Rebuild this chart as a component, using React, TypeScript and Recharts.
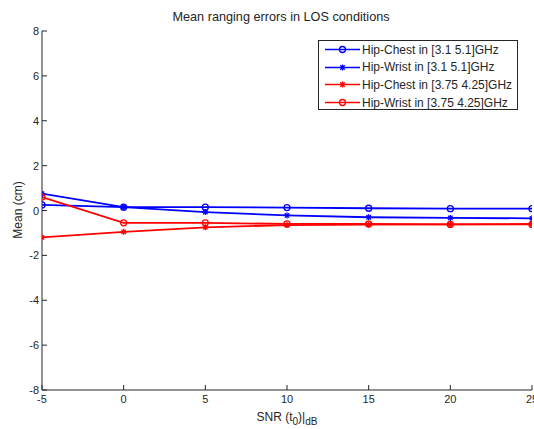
import { LineChart, Line, XAxis, YAxis, Legend } from "recharts";

const snr = [-5, 0, 5, 10, 15, 20, 25];
const hipChestWide = [0.25, 0.15, 0.15, 0.13, 0.1, 0.08, 0.08];
const hipWristWide = [0.75, 0.15, -0.07, -0.22, -0.3, -0.33, -0.35];
const hipChestNarrow = [-1.2, -0.95, -0.75, -0.65, -0.63, -0.62, -0.6];
const hipWristNarrow = [0.6, -0.55, -0.55, -0.6, -0.6, -0.62, -0.62];
const xTicks = [-5, 0, 5, 10, 15, 20, 25];
const yTicks = [-8, -6, -4, -2, 0, 2, 4, 6, 8];

const data = snr.map((s, i) => ({
  snr: s,
  hcw: hipChestWide[i],
  hww: hipWristWide[i],
  hcn: hipChestNarrow[i],
  hwn: hipWristNarrow[i],
}));

const FONT = "'Liberation Sans', Arial, sans-serif";
const TXT = "#262626";
const AX = "#262626";

const series = [
  { key: "hcw", name: "Hip-Chest in [3.1 5.1]GHz", color: "#0000ff", marker: "circle" },
  { key: "hww", name: "Hip-Wrist in [3.1 5.1]GHz", color: "#0000ff", marker: "star" },
  { key: "hcn", name: "Hip-Chest in [3.75 4.25]GHz", color: "#ff0000", marker: "star" },
  { key: "hwn", name: "Hip-Wrist in [3.75 4.25]GHz", color: "#ff0000", marker: "circle" },
];

function Marker({ cx, cy, color, type }: any) {
  if (cx == null || cy == null) return null;
  if (type === "circle") {
    return <circle cx={cx} cy={cy} r={3} fill="none" stroke={color} strokeWidth={1.3} />;
  }
  const s = 3;
  return (
    <g stroke={color} strokeWidth={1.3}>
      <line x1={cx - s} y1={cy} x2={cx + s} y2={cy} />
      <line x1={cx} y1={cy - s} x2={cx} y2={cy + s} />
      <line x1={cx - 2.2} y1={cy - 2.2} x2={cx + 2.2} y2={cy + 2.2} />
      <line x1={cx - 2.2} y1={cy + 2.2} x2={cx + 2.2} y2={cy - 2.2} />
    </g>
  );
}

function BottomTick({ x, y, payload }: any) {
  return (
    <g>
      <line x1={x} y1={y} x2={x} y2={y - 5} stroke={AX} />
      <text x={x} y={y + 13} textAnchor="middle" fontSize={11} fill={TXT} fontFamily={FONT}>
        {payload.value}
      </text>
    </g>
  );
}

function TopTick({ x, y }: any) {
  return <line x1={x} y1={y} x2={x} y2={y + 5} stroke={AX} />;
}

function LeftTick({ x, y, payload }: any) {
  return (
    <g>
      <line x1={x} y1={y} x2={x + 5} y2={y} stroke={AX} />
      <text x={x - 3} y={y + 4} textAnchor="end" fontSize={11} fill={TXT} fontFamily={FONT}>
        {payload.value}
      </text>
    </g>
  );
}

function RightTick({ x, y }: any) {
  return <line x1={x} y1={y} x2={x - 5} y2={y} stroke={AX} />;
}

function XLabel({ viewBox }: any) {
  const cx = viewBox.x + viewBox.width / 2;
  return (
    <text x={cx} y={421} textAnchor="middle" fontSize={12} fill={TXT} fontFamily={FONT}>
      SNR (t
      <tspan fontSize={10} dy={4}>0</tspan>
      <tspan dy={-4}>)|</tspan>
      <tspan fontSize={10} dy={4}>dB</tspan>
    </text>
  );
}

function YLabel() {
  return (
    <text
      x={0}
      y={0}
      transform="translate(22 210) rotate(-90)"
      textAnchor="middle"
      fontSize={12}
      fill={TXT}
      fontFamily={FONT}
    >
      Mean (cm)
    </text>
  );
}

function LegendBox() {
  return (
    <div
      style={{
        width: 200,
        height: 70,
        border: "1px solid #262626",
        background: "#fff",
        boxSizing: "border-box",
        paddingTop: 0,
      }}
    >
      {series.map((s) => (
        <div key={s.key} style={{ display: "flex", alignItems: "center", height: 17.6 }}>
          <svg width={43} height={17}>
            <line x1={6} y1={8.5} x2={41} y2={8.5} stroke={s.color} strokeWidth={1.5} />
            <Marker cx={23.5} cy={8.5} color={s.color} type={s.marker} />
          </svg>
          <span style={{ fontFamily: FONT, fontSize: 12, color: TXT, whiteSpace: "nowrap" }}>{s.name}</span>
        </div>
      ))}
    </div>
  );
}

export default function App() {
  return (
    <div style={{ position: "absolute", left: 0, top: 0, width: 534, height: 429, background: "#fff" }}>
      <LineChart width={534} height={429} data={data} margin={{ top: 31, right: 2, bottom: 0, left: 0 }}>
        <text x={281} y={21} textAnchor="middle" fontSize={12.7} fill={TXT} fontFamily={FONT}>
          Mean ranging errors in LOS conditions
        </text>
        <XAxis
          xAxisId="b"
          dataKey="snr"
          type="number"
          domain={[-5, 25]}
          ticks={xTicks}
          allowDataOverflow
          height={39}
          tickSize={0}
          tickMargin={0}
          tickLine={false}
          tick={<BottomTick />}
          stroke={AX}
          interval={0}
          label={<XLabel />}
        />
        <XAxis
          xAxisId="t"
          orientation="top"
          dataKey="snr"
          type="number"
          domain={[-5, 25]}
          ticks={xTicks}
          allowDataOverflow
          height={0}
          tickSize={0}
          tickMargin={0}
          tickLine={false}
          tick={<TopTick />}
          stroke={AX}
          interval={0}
        />
        <YAxis
          yAxisId="l"
          type="number"
          domain={[-8, 8]}
          ticks={yTicks}
          allowDataOverflow
          width={42}
          tickSize={0}
          tickMargin={0}
          tickLine={false}
          tick={<LeftTick />}
          stroke={AX}
          interval={0}
          label={<YLabel />}
        />
        <YAxis
          yAxisId="r"
          orientation="right"
          type="number"
          domain={[-8, 8]}
          ticks={yTicks}
          allowDataOverflow
          width={0}
          tickSize={0}
          tickMargin={0}
          tickLine={false}
          tick={<RightTick />}
          stroke={AX}
          interval={0}
        />
        {series.map((s) => (
          <Line
            key={s.key}
            xAxisId="b"
            yAxisId="l"
            dataKey={s.key}
            name={s.name}
            stroke={s.color}
            strokeWidth={1.8}
            type="linear"
            isAnimationActive={false}
            dot={(p: any) => <Marker key={`${s.key}-${p.index}`} cx={p.cx} cy={p.cy} color={s.color} type={s.marker} />}
          />
        ))}
        <Legend
          layout="vertical"
          align="center"
          verticalAlign="middle"
          content={<LegendBox />}
          wrapperStyle={{ position: "absolute", left: 318, top: 40, width: 200, height: 70 }}
        />
      </LineChart>
    </div>
  );
}
